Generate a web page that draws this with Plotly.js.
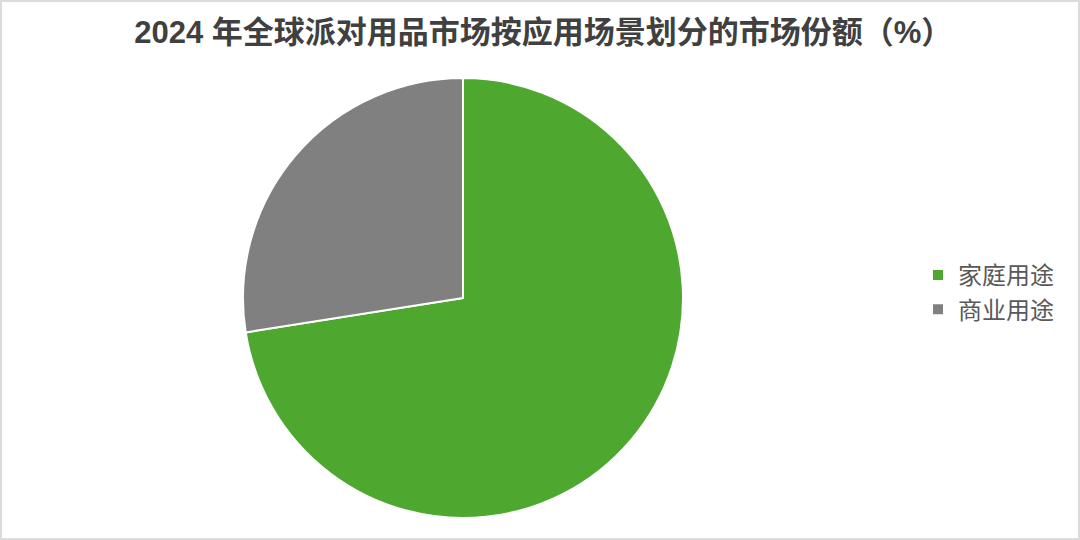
<!DOCTYPE html>
<html>
<head>
<meta charset="utf-8">
<script src="https://cdn.plot.ly/plotly-3.0.1.min.js"></script>
<style>
  html, body { margin: 0; padding: 0; background: #ffffff; }
  #wrap { position: relative; width: 1080px; height: 540px; }
  #frame { position: absolute; left: 0; top: 0; width: 1080px; height: 540px;
           box-sizing: border-box; border: 2px solid #dcdcdc; pointer-events: none; }
</style>
</head>
<body>
<div id="wrap">
  <div id="chart" style="width:1080px;height:540px;"></div>
  <div id="frame"></div>
</div>
<script>
// market share by application scenario, 2024 (%)
const labels = ['家庭用途', '商业用途'];
const shares = [72.5, 27.5];
const colors = ['#4ea72e', '#808080'];

const cjk = '"Liberation Sans", "Noto Sans CJK SC", sans-serif';

var pie = {
    type: 'pie',
    labels: labels,
    values: shares,
    sort: false,
    direction: 'clockwise',
    rotation: 0,
    textinfo: 'none',
    hoverinfo: 'label+percent',
    marker: {
        colors: colors,
        line: { color: '#ffffff', width: 2 }
    },
    domain: { x: [243 / 1080, 683 / 1080], y: [0, 1] }
};

var layout = {
    width: 1080,
    height: 540,
    margin: { l: 0, r: 0, t: 78, b: 22 },
    paper_bgcolor: '#ffffff',
    title: {
        text: '<b>2024 年全球派对用品市场按应用场景划分的市场份额（%）</b>',
        font: { family: cjk, size: 31, color: '#404040' },
        x: 0.503,
        xanchor: 'center',
        y: 0.94,
        yanchor: 'middle'
    },
    showlegend: true,
    legend: {
        x: 0.85,
        xanchor: 'left',
        y: 0.5125,
        yanchor: 'middle',
        yref: 'paper',
        font: { family: cjk, size: 24, color: '#595959' },
        bgcolor: 'rgba(0,0,0,0)'
    }
};

Plotly.newPlot('chart', [pie], layout, { displayModeBar: false, staticPlot: true });
</script>
</body>
</html>
